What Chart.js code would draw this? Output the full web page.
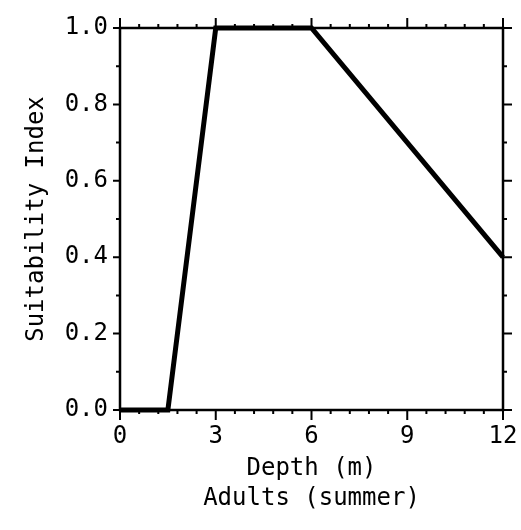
<!DOCTYPE html>
<html>
<head>
<meta charset="utf-8">
<script src="https://cdn.jsdelivr.net/npm/chart.js@4"></script>
<style>
  html, body { margin: 0; padding: 0; background: #fff; }
  #wrap { width: 521px; height: 530px; }
</style>
</head>
<body>
<div id="wrap"><canvas id="chart" width="521" height="530"></canvas></div>
<script>
// data
const depth = [0, 1.5, 3, 6, 12];
const suitability = [0, 0, 1, 1, 0.4];
const xTickLabels = [0, 3, 6, 9, 12];
const yTickLabels = [0, 0.2, 0.4, 0.6, 0.8, 1.0];
const xMinorStep = 0.6;
const yMinorStep = 0.1;

const FONT = "'DejaVu Sans Mono', 'Liberation Mono', monospace";

// draws the box and the major / minor ticks on all four sides
const frameTicks = {
  id: "frameTicks",
  afterDatasetsDraw(chart) {
    const { ctx, chartArea: a, scales: { x, y } } = chart;
    ctx.save();
    ctx.strokeStyle = "#000";
    ctx.lineWidth = 2.5;
    ctx.strokeRect(a.left, a.top, a.right - a.left, a.bottom - a.top);

    ctx.lineWidth = 2;
    ctx.beginPath();
    for (let i = 0; i * xMinorStep <= 12.0001; i++) {
      const v = i * xMinorStep;
      const px = x.getPixelForValue(v);
      const major = xTickLabels.some(t => Math.abs(t - v) < 1e-6);
      const len = major ? 10 : 4;
      ctx.moveTo(px, a.bottom); ctx.lineTo(px, a.bottom + len);
      ctx.moveTo(px, a.top); ctx.lineTo(px, a.top - len);
    }
    for (let i = 0; i * yMinorStep <= 1.0001; i++) {
      const v = i * yMinorStep;
      const py = y.getPixelForValue(v);
      const major = yTickLabels.some(t => Math.abs(t - v) < 1e-6);
      ctx.moveTo(a.left, py); ctx.lineTo(a.left - (major ? 7 : 4), py);
      ctx.moveTo(a.right, py); ctx.lineTo(a.right + (major ? 9 : 4), py);
    }
    ctx.stroke();
    ctx.restore();
  }
};

const ctx = document.getElementById("chart").getContext("2d");

new Chart(ctx, {
  type: "scatter",
  data: {
    datasets: [{
      data: depth.map((d, i) => ({ x: d, y: suitability[i] })),
      showLine: true,
      borderColor: "#000",
      borderWidth: 5,
      pointRadius: 0,
      clip: false
    }]
  },
  options: {
    responsive: false,
    animation: false,
    layout: { padding: { top: 28, right: 18, left: 0, bottom: 0 } },
    plugins: {
      legend: { display: false },
      tooltip: { enabled: false }
    },
    scales: {
      x: {
        type: "linear",
        min: 0,
        max: 12,
        afterBuildTicks: scale => { scale.ticks = xTickLabels.map(v => ({ value: v })); },
        grid: { display: false, drawTicks: false },
        border: { display: false },
        ticks: {
          color: "#000",
          padding: 12,
          maxRotation: 0,
          font: { family: FONT, size: 24 },
          callback: v => String(v)
        },
        title: {
          display: true,
          text: ["Depth (m)", "Adults (summer)"],
          color: "#000",
          font: { family: FONT, size: 24, lineHeight: 1.25 },
          padding: { top: 2, bottom: 16 }
        },
        afterFit: scale => {
          scale.height = 120;
          scale.paddingLeft = 0;
          scale.paddingRight = 0;
        }
      },
      y: {
        type: "linear",
        min: 0,
        max: 1,
        afterBuildTicks: scale => { scale.ticks = yTickLabels.map(v => ({ value: v })); },
        grid: { display: false, drawTicks: false },
        border: { display: false },
        ticks: {
          color: "#000",
          padding: 12,
          font: { family: FONT, size: 24 },
          callback: v => Number(v).toFixed(1)
        },
        title: {
          display: true,
          text: "Suitability Index",
          color: "#000",
          font: { family: FONT, size: 24 },
          padding: { top: 22, bottom: 4 }
        },
        afterFit: scale => {
          scale.width = 120;
          scale.paddingTop = 0;
          scale.paddingBottom = 0;
        }
      }
    }
  },
  plugins: [frameTicks]
});
</script>
</body>
</html>
